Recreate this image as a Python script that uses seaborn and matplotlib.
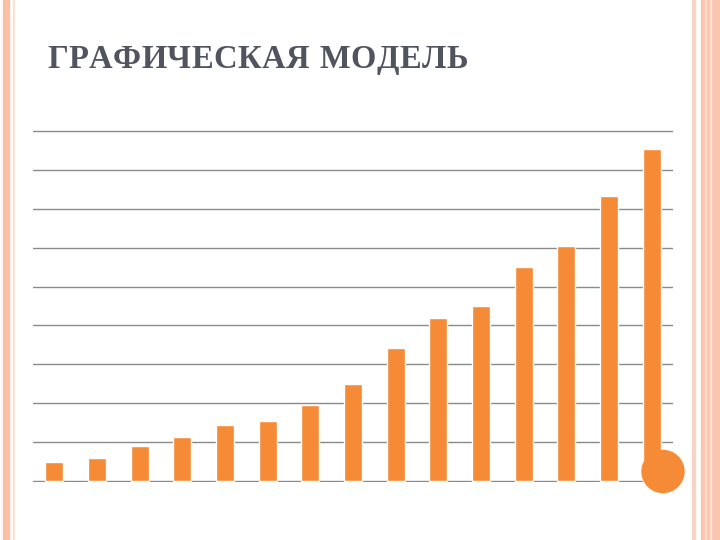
import pandas as pd
import matplotlib.pyplot as plt
import seaborn as sns
from matplotlib.patches import Rectangle, Circle

# Data (units of one gridline = 10)
categories = [str(i) for i in range(1, 16)]
values = [4.9, 5.9, 9.0, 11.5, 14.4, 15.4, 19.5, 24.9, 34.1, 42.0, 45.1, 55.1, 60.3, 73.3, 85.4]

title_text = 'ГРАФИЧЕСКАЯ МОДЕЛЬ'
bar_color = '#F68B37'
grid_color = '#8a8a8a'

df = pd.DataFrame({'cat': categories, 'val': values})

sns.set_style('white')
fig = plt.figure(figsize=(7.2, 5.4), dpi=100)

# slide frame decorations
def vband(x0, w, color):
    fig.patches.append(Rectangle((x0 / 720, 0), w / 720, 1, transform=fig.transFigure,
                                 color=color, zorder=0))

vband(3, 5.5, '#F9C1A6')
vband(13, 1.2, '#FBE3D6')
vband(692, 3, '#F6D3C4')
vband(701, 19, '#FBC6B0')
vband(705, 1.2, '#FDDDD0')
vband(710, 1.2, '#FDDDD0')

ax = fig.add_axes([33 / 720, 1 - 482 / 540, 640 / 720, 352 / 540])
sns.barplot(data=df, x='cat', y='val', color=bar_color, width=0.42,
            saturation=1, ax=ax, zorder=3)

ax.set_ylim(-0.15, 90.15)
ax.set_yticks(range(0, 91, 10))
ax.yaxis.grid(True, color=grid_color, linewidth=1.0, zorder=0)
ax.set_axisbelow(True)
for s in ax.spines.values():
    s.set_visible(False)
ax.tick_params(left=False, bottom=False, labelleft=False, labelbottom=False)
ax.set_xlabel('')
ax.set_ylabel('')

# orange circle in bottom right corner
fig.patches.append(Circle((6.63, 5.4 - 4.715), 0.21, transform=fig.dpi_scale_trans,
                          color=bar_color, zorder=5))

# title, spaced out letter by letter to match the wide slide font
fig.canvas.draw()
renderer = fig.canvas.get_renderer()
title_kw = dict(fontsize=23.5, fontweight='bold', family=['Liberation Serif', 'DejaVu Serif'],
                color='#50545f', va='baseline')
x_left, x_right, base_y = 47, 468, 68
texts = []
widths = []
for ch in title_text:
    t = fig.text(0, 1 - base_y / 540, ch, **title_kw)
    texts.append(t)
    widths.append(t.get_window_extent(renderer).width if ch != ' ' else 0)
space_w = 9
n_gap = len(title_text) - 1
gap = (x_right - x_left - sum(widths) - space_w) / n_gap
x = x_left
for ch, t, w in zip(title_text, texts, widths):
    t.set_x(x / 720)
    x += (w if ch != ' ' else space_w) + gap

plt.savefig('out.png', dpi=100)
plt.close()
